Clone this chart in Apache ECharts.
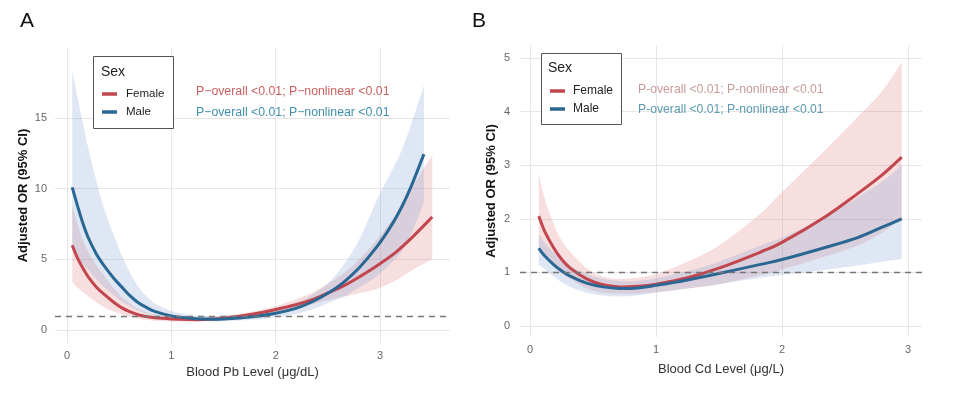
<!DOCTYPE html>
<html><head><meta charset="utf-8">
<script src="https://cdn.jsdelivr.net/npm/echarts@6/dist/echarts.min.js"></script>
<style>html,body{margin:0;padding:0;background:#fff}#c{width:960px;height:396px}</style>
</head><body><div id="c"></div>
<script>
// ---- Panel A: Blood Pb ----
const pbFemaleX = [0.05,0.1,0.15,0.2,0.28,0.36,0.45,0.53,0.6,0.68,0.76,0.84,1.0,1.16,1.3,1.5,1.8,2.0,2.2,2.35,2.5,2.65,2.8,2.97,3.15,3.3,3.5];
const pbFemaleY = [6.0,5.1,4.4,3.8,3.05,2.5,1.95,1.55,1.3,1.08,0.95,0.86,0.78,0.74,0.74,0.83,1.15,1.45,1.8,2.15,2.62,3.12,3.75,4.55,5.5,6.5,8.0];
const pbFemaleLo = [3.4,3.0,2.7,2.4,1.95,1.6,1.3,1.1,0.95,0.8,0.72,0.65,0.6,0.6,0.62,0.72,0.98,1.25,1.55,1.82,2.1,2.35,2.6,2.9,3.5,4.2,5.0];
const pbFemaleHi = [8.8,7.5,6.4,5.6,4.6,3.8,2.95,2.3,1.9,1.5,1.28,1.1,0.98,0.9,0.9,1.0,1.35,1.7,2.2,2.65,3.3,4.0,5.0,6.4,8.2,10.0,12.4];
const pbMaleX = [0.05,0.1,0.15,0.2,0.28,0.36,0.45,0.53,0.6,0.68,0.76,0.84,1.0,1.16,1.3,1.5,1.8,2.0,2.2,2.35,2.5,2.65,2.8,2.97,3.1,3.2,3.3,3.42];
const pbMaleY = [10.1,8.8,7.6,6.6,5.4,4.5,3.65,3.0,2.45,1.95,1.6,1.32,1.0,0.85,0.78,0.78,0.95,1.18,1.55,2.0,2.6,3.37,4.4,5.9,7.3,8.6,10.2,12.45];
const pbMaleLo = [5.8,5.2,4.7,4.3,3.6,3.0,2.45,2.0,1.7,1.4,1.18,1.0,0.8,0.68,0.62,0.62,0.75,0.9,1.15,1.45,1.9,2.35,3.0,3.8,4.7,5.5,6.8,9.0];
const pbMaleHi = [18.4,16.5,14.7,13.0,10.6,8.5,6.7,5.2,4.1,3.1,2.4,1.9,1.35,1.1,1.0,1.0,1.2,1.45,1.95,2.5,3.3,4.6,6.4,9.2,11.1,12.6,14.6,17.3];
const pbXTicks = [0,1,2,3];
const pbYTicks = [0,5,10,15];

// ---- Panel B: Blood Cd ----
const cdX = [0.07,0.12,0.19,0.25,0.32,0.45,0.58,0.71,0.85,1.0,1.25,1.5,1.83,2.0,2.35,2.6,2.8,2.95];
const cdFemaleY = [2.05,1.75,1.45,1.25,1.08,0.88,0.77,0.73,0.74,0.78,0.9,1.08,1.38,1.56,2.05,2.47,2.83,3.15];
const cdFemaleLo = [1.5,1.35,1.18,1.0,0.88,0.7,0.62,0.6,0.6,0.63,0.7,0.78,0.95,1.05,1.3,1.5,1.75,2.0];
const cdFemaleHi = [2.85,2.35,1.9,1.6,1.38,1.08,0.92,0.88,0.9,0.97,1.2,1.5,2.1,2.5,3.3,3.9,4.4,4.93];
const cdMaleY = [1.45,1.3,1.14,1.03,0.93,0.8,0.73,0.7,0.71,0.76,0.86,0.98,1.15,1.24,1.47,1.65,1.85,2.0];
const cdMaleLo = [1.15,1.06,0.92,0.82,0.73,0.62,0.57,0.55,0.57,0.62,0.7,0.78,0.9,0.95,1.05,1.13,1.2,1.25];
const cdMaleHi = [1.72,1.55,1.37,1.25,1.12,0.97,0.88,0.84,0.84,0.89,1.02,1.2,1.5,1.65,2.05,2.4,2.7,3.0];
const cdXTicks = [0,1,2,3];
const cdYTicks = [0,1,2,3,4,5];

const refLine = 1;
const pText = 'P\u2212overall <0.01; P\u2212nonlinear <0.01';
const pTextB = 'P-overall <0.01; P-nonlinear <0.01';

const RED = '#c1464d', BLUE = '#2a6792';
const RED_BAND = 'rgba(222,120,120,0.24)', BLUE_BAND = 'rgba(120,155,210,0.24)';
const FONT = '"Liberation Sans", Arial, Helvetica, sans-serif';

// Catmull-Rom -> cubic Bezier path through pixel points
function curvePath(pts, moveFirst) {
  let d = (moveFirst ? 'M' : 'L') + pts[0][0].toFixed(2) + ' ' + pts[0][1].toFixed(2);
  for (let i = 0; i < pts.length - 1; i++) {
    const p0 = pts[Math.max(i - 1, 0)], p1 = pts[i], p2 = pts[i + 1], p3 = pts[Math.min(i + 2, pts.length - 1)];
    const c1 = [p1[0] + (p2[0] - p0[0]) / 6, p1[1] + (p2[1] - p0[1]) / 6];
    const c2 = [p2[0] - (p3[0] - p1[0]) / 6, p2[1] - (p3[1] - p1[1]) / 6];
    d += 'C' + c1[0].toFixed(2) + ' ' + c1[1].toFixed(2) + ' ' + c2[0].toFixed(2) + ' ' + c2[1].toFixed(2) + ' ' + p2[0].toFixed(2) + ' ' + p2[1].toFixed(2);
  }
  return d;
}

function bandSeries(gi, xs, lo, hi, color) {
  return {
    type: 'custom', xAxisIndex: gi, yAxisIndex: gi, silent: true, z: 2,
    data: xs.map((x, i) => [x, lo[i], hi[i]]),
    renderItem: function (params, api) {
      if (params.dataIndex !== 0) return null;
      const up = xs.map((x, i) => api.coord([x, hi[i]]));
      const dn = xs.map((x, i) => api.coord([x, lo[i]])).reverse();
      const d = curvePath(up, true) + curvePath(dn, false) + 'Z';
      return { type: 'path', shape: { pathData: d }, style: { fill: color, stroke: null } };
    }
  };
}
function lineSeries(gi, name, xs, ys, color) {
  return {
    type: 'custom', name: name, xAxisIndex: gi, yAxisIndex: gi, z: 4,
    itemStyle: { color: color },
    data: xs.map((x, i) => [x, ys[i]]),
    renderItem: function (params, api) {
      if (params.dataIndex !== 0) return null;
      const pts = xs.map((x, i) => api.coord([x, ys[i]]));
      return { type: 'path', shape: { pathData: curvePath(pts, true) },
        style: { fill: null, stroke: color, lineWidth: 3, lineCap: 'butt', lineJoin: 'round' } };
    }
  };
}
function gridSeries(gi, xt, yt) {
  return { type: 'line', xAxisIndex: gi, yAxisIndex: gi, data: [], silent: true,
    markLine: { silent: true, symbol: 'none', z: 1, label: { show: false },
      lineStyle: { color: '#e6e6e6', width: 1, type: 'solid' },
      data: xt.map(v => ({ xAxis: v })).concat(yt.map(v => ({ yAxis: v }))) } };
}
function dashSeries(gi) {
  return { type: 'line', xAxisIndex: gi, yAxisIndex: gi, data: [], silent: true,
    markLine: { silent: true, symbol: 'none', z: 6, label: { show: false },
      lineStyle: { color: '#777', width: 1.3, type: [6, 5] }, data: [{ yAxis: refLine }] } };
}

const axisCommon = {
  axisLine: { show: false }, axisTick: { show: false }, splitLine: { show: false },
};

const option = {
  animation: false,
  textStyle: { fontFamily: FONT },
  grid: [
    { left: 55, right: 510, top: 48, bottom: 53 },
    { left: 520, right: 38, top: 45, bottom: 59 }
  ],
  xAxis: [
    Object.assign({ type: 'value', gridIndex: 0, min: -0.115, max: 3.67,
      axisLabel: { customValues: pbXTicks, color: '#666', fontSize: 11, margin: 7, fontFamily: FONT },
      name: 'Blood Pb Level (\u03bcg/dL)', nameLocation: 'middle', nameGap: 22,
      nameTextStyle: { color: '#333', fontSize: 13, fontFamily: FONT } }, axisCommon),
    Object.assign({ type: 'value', gridIndex: 1, min: -0.079, max: 3.111,
      axisLabel: { customValues: cdXTicks, color: '#666', fontSize: 11, margin: 7, fontFamily: FONT },
      name: 'Blood Cd Level (\u03bcg/L)', nameLocation: 'middle', nameGap: 26,
      nameTextStyle: { color: '#333', fontSize: 13, fontFamily: FONT } }, axisCommon)
  ],
  yAxis: [
    Object.assign({ type: 'value', gridIndex: 0, min: -0.92, max: 19.96,
      axisLabel: { customValues: pbYTicks, color: '#666', fontSize: 11, margin: 8, fontFamily: FONT },
      name: 'Adjusted OR (95% CI)', nameLocation: 'middle', nameGap: 25,
      nameTextStyle: { color: '#111', fontSize: 13, fontWeight: 'bold', fontFamily: FONT } }, axisCommon),
    Object.assign({ type: 'value', gridIndex: 1, min: -0.205, max: 5.243,
      axisLabel: { customValues: cdYTicks, color: '#666', fontSize: 11, margin: 10, fontFamily: FONT },
      name: 'Adjusted OR (95% CI)', nameLocation: 'middle', nameGap: 22,
      nameTextStyle: { color: '#111', fontSize: 13, fontWeight: 'bold', fontFamily: FONT } }, axisCommon)
  ],
  legend: [
    { left: 102, top: 88, padding: 0, orient: 'vertical', itemWidth: 15, itemHeight: 3.5, itemGap: 6, icon: 'rect', z: 20,
      data: ['Female', 'Male'], selectedMode: false,
      textStyle: { fontSize: 11.5, color: '#222', fontFamily: FONT, padding: [0, 0, 0, 4] } },
    { left: 550, top: 85, padding: 0, orient: 'vertical', itemWidth: 15, itemHeight: 3.5, itemGap: 6, icon: 'rect', z: 20,
      data: ['Female', 'Male'], selectedMode: false,
      textStyle: { fontSize: 12, color: '#222', fontFamily: FONT, padding: [0, 0, 0, 3] } }
  ],
  graphic: [
    { type: 'text', left: 20, top: 11, style: { text: 'A', fontSize: 21, fill: '#111', fontFamily: FONT } },
    { type: 'text', left: 472, top: 11, style: { text: 'B', fontSize: 21, fill: '#111', fontFamily: FONT } },
    { type: 'rect', shape: { x: 93.5, y: 56.5, width: 80, height: 72 }, style: { fill: '#fff', stroke: '#555', lineWidth: 1 }, z: 10 },
    { type: 'text', x: 101, y: 65, style: { text: 'Sex', fontSize: 14, fill: '#222', fontFamily: FONT }, z: 11 },
    { type: 'rect', shape: { x: 541.5, y: 53.5, width: 80, height: 71 }, style: { fill: '#fff', stroke: '#555', lineWidth: 1 }, z: 10 },
    { type: 'text', x: 548, y: 61, style: { text: 'Sex', fontSize: 14, fill: '#222', fontFamily: FONT }, z: 11 },
    { type: 'text', x: 196, y: 86, style: { text: pText, fontSize: 12.3, fill: '#c9605f', fontFamily: FONT }, z: 11 },
    { type: 'text', x: 196, y: 107, style: { text: pText, fontSize: 12.3, fill: '#3f90aa', fontFamily: FONT }, z: 11 },
    { type: 'text', x: 638, y: 84, style: { text: pTextB, fontSize: 12.2, fill: '#c99a9a', fontFamily: FONT }, z: 11 },
    { type: 'text', x: 638, y: 104, style: { text: pTextB, fontSize: 12.2, fill: '#5b9ab0', fontFamily: FONT }, z: 11 }
  ],
  series: [
    gridSeries(0, pbXTicks, pbYTicks),
    gridSeries(1, cdXTicks, cdYTicks),
    bandSeries(0, pbFemaleX, pbFemaleLo, pbFemaleHi, RED_BAND),
    bandSeries(0, pbMaleX, pbMaleLo, pbMaleHi, BLUE_BAND),
    bandSeries(1, cdX, cdFemaleLo, cdFemaleHi, RED_BAND),
    bandSeries(1, cdX, cdMaleLo, cdMaleHi, BLUE_BAND),
    dashSeries(0),
    dashSeries(1),
    lineSeries(0, 'Female', pbFemaleX, pbFemaleY, RED),
    lineSeries(0, 'Male', pbMaleX, pbMaleY, BLUE),
    lineSeries(1, 'Female', cdX, cdFemaleY, RED),
    lineSeries(1, 'Male', cdX, cdMaleY, BLUE)
  ]
};
const chart = echarts.init(document.getElementById('c'), null, { renderer: 'canvas' });
chart.setOption(option);
</script>
</body></html>
